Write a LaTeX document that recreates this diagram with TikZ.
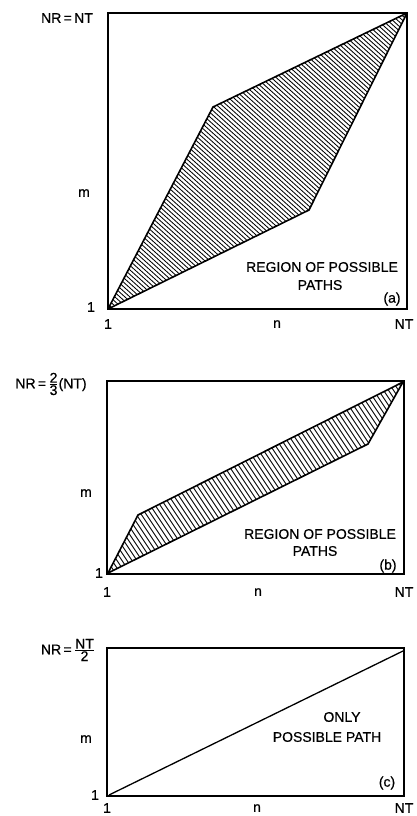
\documentclass[tikz,border=0pt]{standalone}
\usepackage{fontspec}
\setmainfont{Liberation Sans}
\newfontfamily\lblfont{Liberation Sans}[FakeBold=0.6]
\begin{document}
\begin{tikzpicture}[x=1pt,y=-1pt,
  lbl/.style={font=\lblfont\fontsize{14}{16}\selectfont, inner sep=0pt},
  frame/.style={line width=1.6pt, line join=miter},
  region/.style={line width=1.6pt, line join=round},
  hatch/.style={line width=0.85pt},
  path/.style={line width=1.3pt}]
\useasboundingbox (0,0) rectangle (416,816);

% ---------- panel (a) ----------
\coordinate (a1) at (108,309);
\coordinate (a2) at (213,107);
\coordinate (a3) at (407,13);
\coordinate (a4) at (309,210);
\begin{scope}
  \clip (a1) -- (a2) -- (a3) -- (a4) -- cycle;
  \foreach \i in {-250,-245,...,410} \draw[hatch] (\i,0) -- ++(400,360);
\end{scope}
\draw[region] (a1) -- (a2) -- (a3) -- (a4) -- cycle;
\draw[frame] (108,13) rectangle (407,309);
\node[lbl] (aNR) at (67,18) {NR\,=\,NT};
\node[lbl] (am) at (84,193) {m};
\node[lbl] (a1l) at (91,307) {1};
\node[lbl] (a1b) at (108,324) {1};
\node[lbl] (an) at (277,324) {n};
\node[lbl] (aNT) at (404,324) {NT};
\node[lbl] (aR1) at (322,267) {REGION OF POSSIBLE};
\node[lbl] (aR2) at (320,285) {PATHS};
\node[lbl] (aid) at (392,299) {(a)};

% ---------- panel (b) ----------
\coordinate (b1) at (108,573);
\coordinate (b2) at (138,515);
\coordinate (b3) at (403,382);
\coordinate (b4) at (368,444);
\begin{scope}
  \clip (b1) -- (b2) -- (b3) -- (b4) -- cycle;
  \foreach \i in {-60,-55,...,410} \draw[hatch] (\i,370) -- ++(200,300);
\end{scope}
\draw[region] (b1) -- (b2) -- (b3) -- (b4) -- cycle;
\draw[frame] (107,381) rectangle (404,574);
\node[lbl] (bNR) at (51,384) {NR\,=\,$\frac{\hbox{2}}{\hbox{3}}$(NT)};
\node[lbl] (bm) at (86,493) {m};
\node[lbl] (b1l) at (99,573) {1};
\node[lbl] (b1b) at (107,592) {1};
\node[lbl] (bn) at (258,592) {n};
\node[lbl] (bNT) at (404,592) {NT};
\node[lbl] (bR1) at (320,534) {REGION OF POSSIBLE};
\node[lbl] (bR2) at (315,551) {PATHS};
\node[lbl] (bid) at (388,566) {(b)};

% ---------- panel (c) ----------
\coordinate (c1) at (109,795);
\coordinate (c2) at (403,651);
\draw[frame] (107,648) rectangle (404,796);
\draw[path] (c1) -- (c2);
\node[lbl] (cNR) at (68,650) {NR\,=\,$\frac{\hbox{NT}}{\hbox{2}}$};
\node[lbl] (cm) at (86,739) {m};
\node[lbl] (c1l) at (95,795) {1};
\node[lbl] (c1b) at (107,808) {1};
\node[lbl] (cn) at (257,808) {n};
\node[lbl] (cNT) at (404,808) {NT};
\node[lbl] (cO1) at (342,717) {ONLY};
\node[lbl] (cO2) at (327,737) {POSSIBLE PATH};
\node[lbl] (cid) at (387,783) {(c)};
\end{tikzpicture}
\end{document}
